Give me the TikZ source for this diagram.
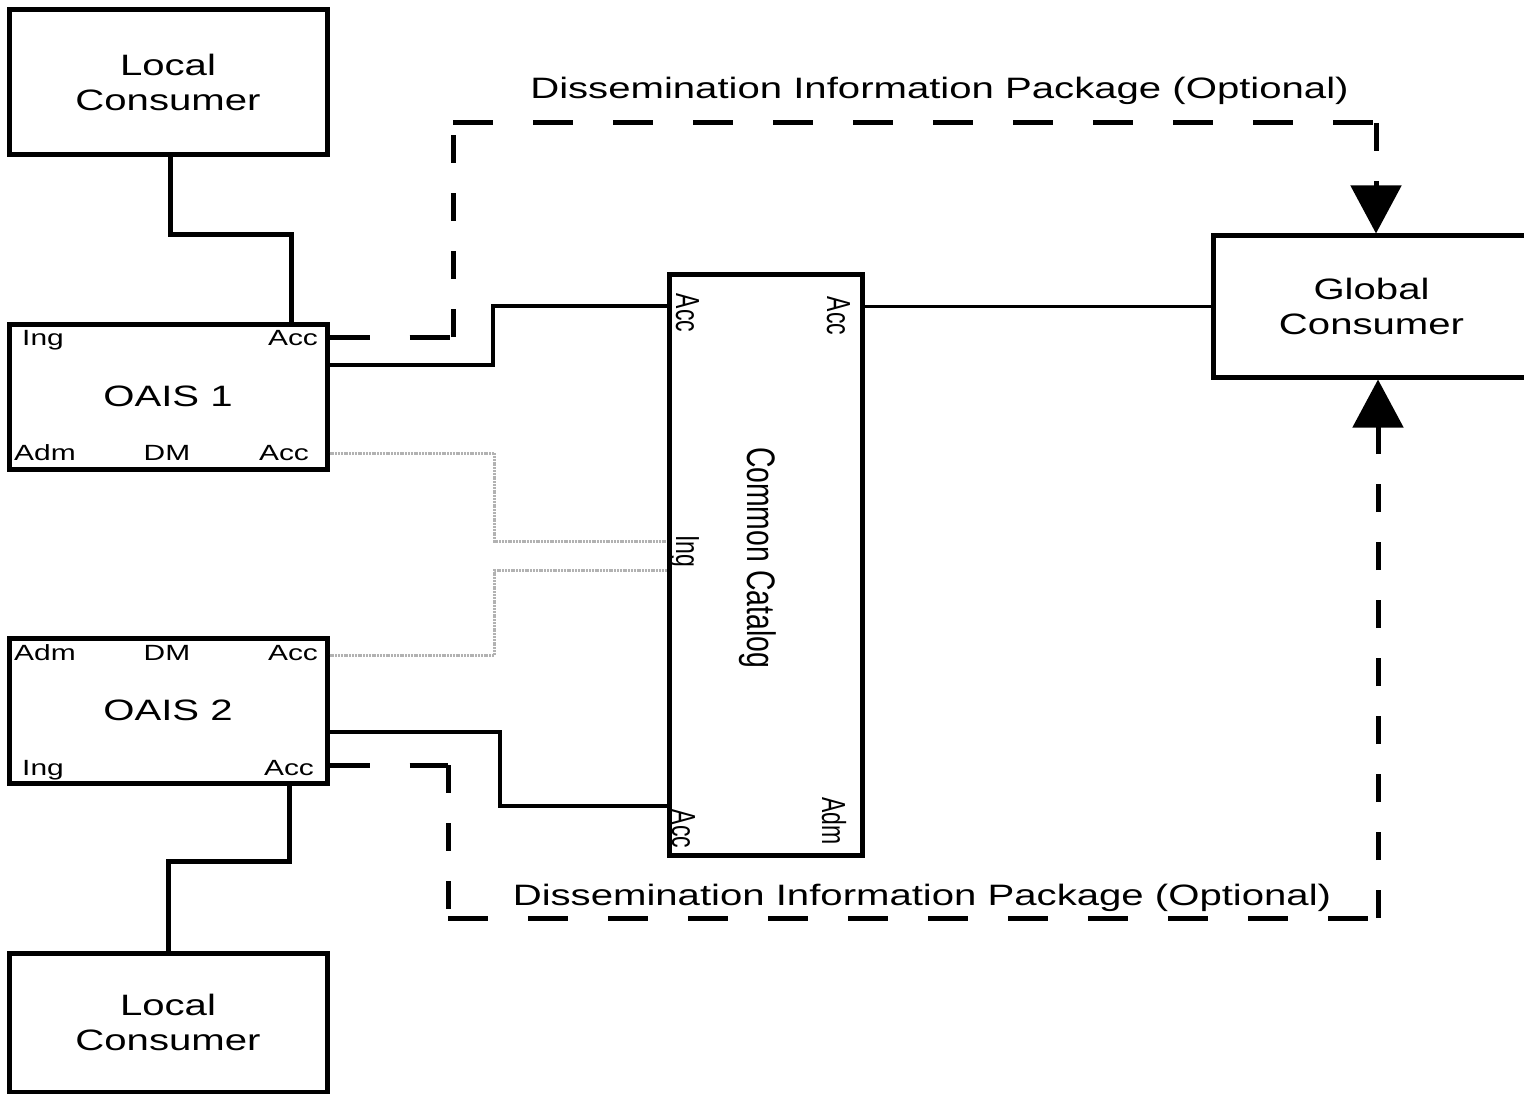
\documentclass[tikz,border=0pt]{standalone}
\usepackage{fontspec}
\setmainfont{Liberation Sans}
\newfontfamily\widefont{Liberation Sans}[FakeStretch=1.36]
\usetikzlibrary{arrows.meta}
\begin{document}
\begin{tikzpicture}[x=1pt,y=-1pt,
  box/.style={draw, line width=5pt, inner sep=0pt, align=center,
    font=\widefont\fontsize{29.5}{35}\selectfont},
  port/.style={inner sep=0pt, anchor=base, font=\widefont\fontsize{22}{24}\selectfont},
  rport/.style={inner sep=0pt, anchor=base, rotate=-90, font=\fontsize{23}{25}\selectfont},
  dlabel/.style={inner sep=0pt, anchor=base, font=\widefont\fontsize{29.5}{35}\selectfont},
  heavy/.style={line width=5pt},
  medium/.style={line width=4pt},
  light/.style={line width=3pt},
  grayconn/.style={line width=3pt, gray!60, dash pattern=on 2pt off 0.8pt},
  hdash/.style={line width=5pt, dash pattern=on 40pt off 40pt},
  vdash/.style={line width=5pt, dash pattern=on 28pt off 30pt},
  tip/.style={-{Triangle[width=50pt,length=48pt]}}
]
\clip (0,0) rectangle (1524,1094);
\fill[white] (0,0) rectangle (1524,1094);

% boxes
\node[box, minimum width=318pt, minimum height=145pt] (lc1) at (168,82.5) {Local\\Consumer};
\node[box, minimum width=318pt, minimum height=145pt] (oais1) at (168,396.5) {OAIS 1};
\node[box, minimum width=318pt, minimum height=145pt] (oais2) at (168,710.5) {OAIS 2};
\node[box, minimum width=318pt, minimum height=139pt] (lc2) at (168,1022.5) {Local\\Consumer};
\node[box, minimum width=193pt, minimum height=580pt] (cat) at (765.5,565) {};
\node[box, minimum width=317pt, minimum height=141pt] (gc) at (1371.5,306.5) {Global\\Consumer};

% port labels OAIS 1
\node[port] (o1ing) at (43,345) {Ing};
\node[port] (o1acc) at (293,345) {Acc};
\node[port] (o1adm) at (45,460) {Adm};
\node[port] (o1dm) at (167,460) {DM};
\node[port] (o1acc2) at (284,460) {Acc};
% port labels OAIS 2
\node[port] (o2adm) at (45,660.5) {Adm};
\node[port] (o2dm) at (167,660.5) {DM};
\node[port] (o2acc) at (293,660.5) {Acc};
\node[port] (o2ing) at (43,775) {Ing};
\node[port] (o2acc2) at (289,775) {Acc};

% catalog labels
\node[rport] (cacc1) at (676,313) {\scalebox{1}[1.45]{Acc}};
\node[rport] (cacc2) at (827,316) {\scalebox{1}[1.45]{Acc}};
\node[rport] (cing) at (676,551) {\scalebox{1}[1.45]{Ing}};
\node[rport] (cacc3) at (672,829) {\scalebox{1}[1.45]{Acc}};
\node[rport] (cadm) at (822,821) {\scalebox{1}[1.45]{Adm}};
\node[rport, font=\fontsize{28.4}{30}\selectfont] (ctitle) at (747,557.5) {\scalebox{1}[1.4]{Common Catalog}};

% DIP labels
\node[dlabel] (dip1) at (939.5,99) {Dissemination Information Package (Optional)};
\node[dlabel] (dip2) at (922,905) {Dissemination Information Package (Optional)};

% local consumers
\draw[heavy] ([xshift=2pt]lc1.south) -- ++(0,77) -| ([xshift=123pt]oais1.north);
\draw[heavy] ([xshift=121pt]oais2.south) -- ++(0,76) -| (lc2.north);

% solid links to catalog
\draw[medium] ([yshift=31.5pt]oais1.east) -- ++(163,0) |- ([yshift=259pt]cat.west);
\draw[medium] ([yshift=-21.5pt]oais2.east) -- ++(170,0) |- ([yshift=-241pt]cat.west);
\draw[light] (gc.west -| cat.east) -- (gc.west);

% gray links
\draw[grayconn] ([yshift=-56.5pt]oais1.east) -- ++(165,0) |- ([yshift=24pt]cat.west);
\draw[grayconn] ([yshift=55.5pt]oais2.east) -- ++(165,0) |- ([yshift=-5pt]cat.west);

% dashed DIP top
\coordinate (t1) at (453,337);
\coordinate (t2) at (453,123);
\coordinate (t3) at (1376,123);
\draw[hdash] ([yshift=59.5pt]oais1.east) -- (t1);
\draw[vdash] (t1) -- (t2);
\draw[hdash] (t2) -- (t3);
\draw[vdash, tip] (t3) -- (gc.north -| t3);

% dashed DIP bottom
\coordinate (b1) at (448,765);
\coordinate (b2) at (448,918);
\coordinate (b3) at (1378,918);
\draw[hdash] ([yshift=-54.5pt]oais2.east) -- (b1);
\draw[vdash] (b1) -- (b2);
\draw[hdash] (b2) -- (b3);
\draw[vdash, tip] (b3) -- (gc.south -| b3);
\end{tikzpicture}
\end{document}
